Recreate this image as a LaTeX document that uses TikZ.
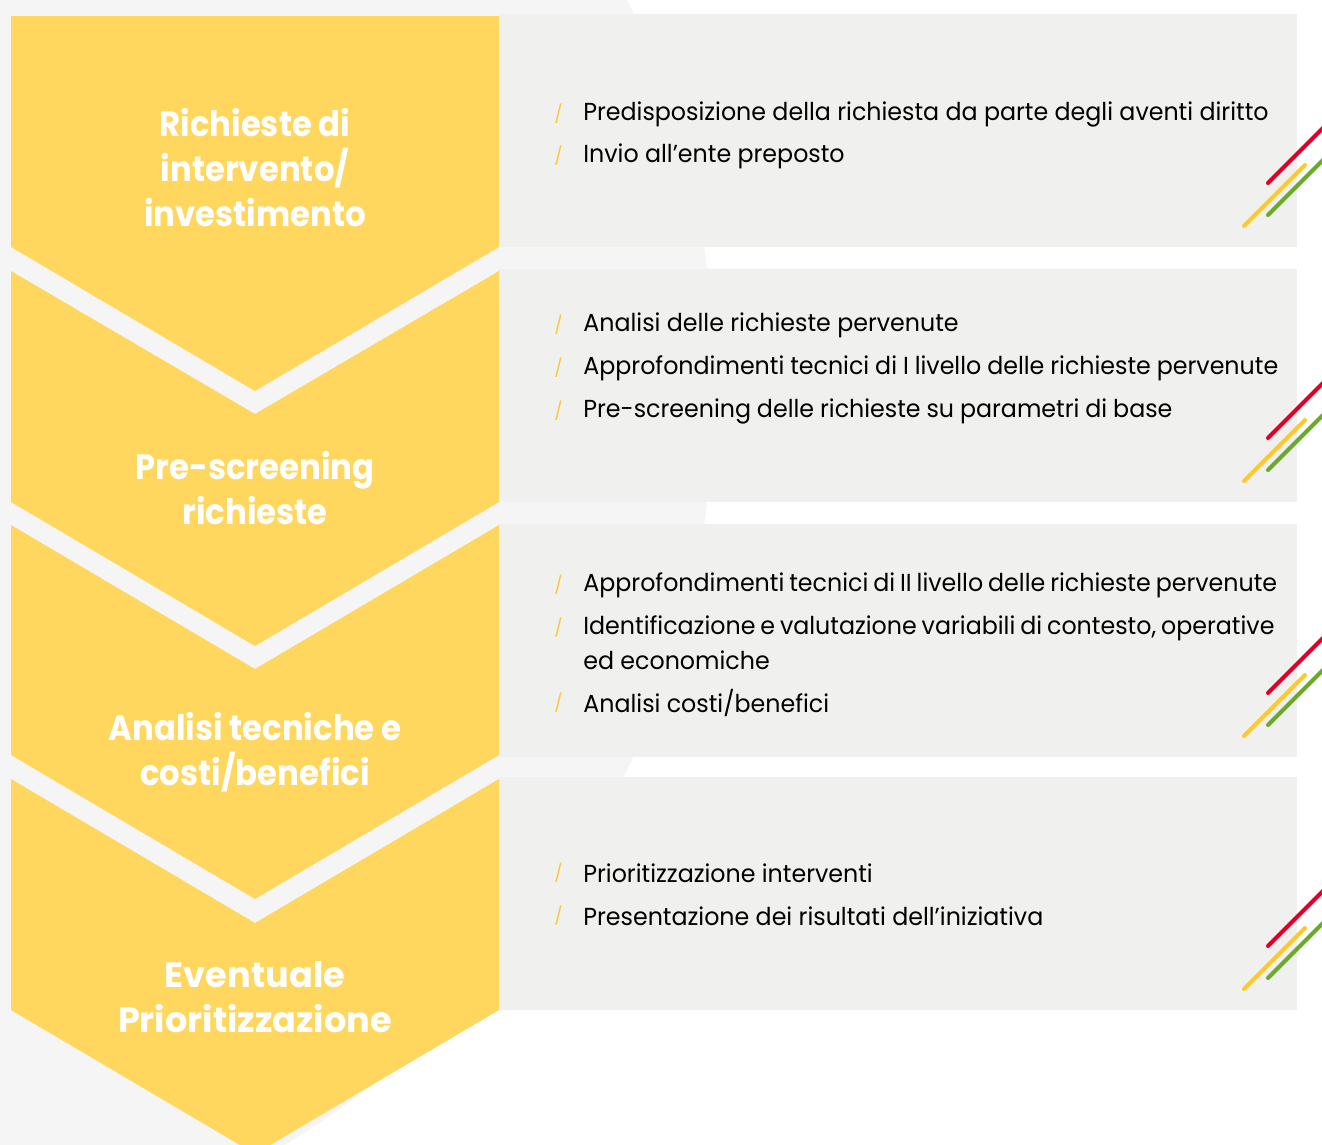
\documentclass[tikz,border=0pt]{standalone}
\usepackage{fontspec}
\setmainfont{Poppins}
\newfontfamily\titlefont{Poppins}[FakeStretch=0.92]
\newfontfamily\lasttitlefont{Poppins}
\newfontfamily\bodyfont{Poppins}[FakeStretch=0.965]
\newcommand\tightwords{\spaceskip=0.2em\relax}
\newcommand\snugwords{\spaceskip=0.24em\relax}
\usetikzlibrary{positioning}
\definecolor{BackGray}{RGB}{245,245,245}
\definecolor{PanelGray}{RGB}{240,240,238}
\definecolor{StepYellow}{RGB}{255,215,94}
\definecolor{SlashYellow}{RGB}{250,200,60}
\definecolor{StripeRed}{RGB}{222,0,40}
\definecolor{StripeYellow}{RGB}{255,200,45}
\definecolor{StripeGreen}{RGB}{105,170,40}

\begin{document}
\begin{tikzpicture}[x=0.02cm, y=-0.02cm,
    steptitle/.style={align=center, text=white, font=\titlefont\bfseries\fontsize{20}{25.6}\selectfont},
    entry/.style={anchor=base west, inner sep=0pt, font=\bodyfont\fontsize{14}{16}\selectfont,
      label={[text=SlashYellow, label distance=0.4cm, inner sep=0pt]left:/}},
    entrycont/.style={anchor=base west, inner sep=0pt, font=\bodyfont\fontsize{14}{16}\selectfont},
    stripe/.style={line width=2.3pt, line cap=round}
  ]
  \useasboundingbox (0,0) rectangle (1322,1144);
  \fill[white] (0,0) rectangle (1322,1144);
  \begin{scope}
    \clip (0,0) rectangle (1322,1144);
    \fill[BackGray] (-3.42cm,-7.7cm) circle (17.72cm);
  \end{scope}

  % panels and stripes
  \foreach \t/\b in {14/247, 269/502, 524/757, 777/1010} {
    \fill[PanelGray] (499,\t) rectangle (1297,\b);
    \draw[stripe, StripeRed] (1268,\b-64) -- ++(70,-70);
    \draw[stripe, StripeYellow] (1244,\b-21) -- (1305,\b-82);
    \draw[stripe, StripeGreen] (1268,\b-32) -- ++(70,-70);
  }

  % chevrons
  \fill[StepYellow] (11,16) -- (499,16) -- (499,247) -- (255,391) -- (11,247) -- cycle;
  \foreach \ts/\tp/\bs/\bp in {271/414/502/646, 525/669/755/899, 779/923/1010/1154}
    \fill[StepYellow] (11,\ts) -- (255,\tp) -- (499,\ts) -- (499,\bs) -- (255,\bp) -- (11,\bs) -- cycle;

  % step titles
  \node[steptitle] (t1) at (255,168) {Richieste di\\intervento/\\investimento};
  \node[steptitle] (t2) at (255,488) {Pre-screening\\richieste};
  \node[steptitle] (t3) at (255,752) {Analisi tecniche e\\costi/benefici};
  \node[steptitle, font=\lasttitlefont\bfseries\fontsize{20}{25.6}\selectfont] (t4) at (255,997) {Eventuale\\Prioritizzazione};

  % step contents
  \node[entry] (e11) at (583,120) {Predisposizione della richiesta da parte degli aventi diritto};
  \node[entry] (e12) at (583,162) {Invio all’ente preposto};

  \node[entry] (e21) at (583,331) {Analisi delle richieste pervenute};
  \node[entry] (e22) at (583,374) {\snugwords Approfondimenti tecnici di I livello delle richieste pervenute};
  \node[entry] (e23) at (583,417) {\snugwords Pre-screening delle richieste su parametri di base};

  \node[entry] (e31) at (583,591) {\tightwords Approfondimenti tecnici di II livello delle richieste pervenute};
  \node[entry] (e32) at (583,634) {\tightwords Identificazione e valutazione variabili di contesto, operative};
  \node[entrycont] (e32b) at (583,669) {ed economiche};
  \node[entry] (e33) at (583,712) {Analisi costi/benefici};

  \node[entry] (e41) at (583,882) {Prioritizzazione interventi};
  \node[entry] (e42) at (583,925) {Presentazione dei risultati dell’iniziativa};
\end{tikzpicture}
\end{document}
